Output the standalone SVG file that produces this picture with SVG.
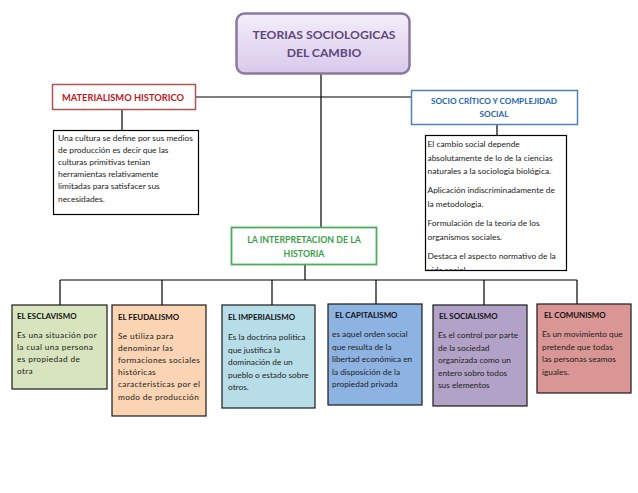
<svg xmlns="http://www.w3.org/2000/svg" width="638" height="493" viewBox="0 0 638 493">
<defs>
<linearGradient id="gTitle" x1="0" y1="0" x2="0" y2="1">
<stop offset="0" stop-color="#f4eefa"/>
<stop offset="1" stop-color="#d8c9ea"/>
</linearGradient>
<clipPath id="clipR"><rect x="425" y="135" width="142" height="135.5"/></clipPath>
</defs>
<style>
.ln{stroke:#000;stroke-width:1.2;fill:none}
.tx{font-family:Lato,"Liberation Sans",sans-serif;font-size:8.4px;fill:#222}
.bx{font-family:Lato,"Liberation Sans",sans-serif;font-size:8.3px;fill:#222}
.sp{letter-spacing:0.35px}
.bt{font-family:Lato,"Liberation Sans",sans-serif;font-size:7.9px;font-weight:bold;fill:#111}
.hd{font-family:Lato,"Liberation Sans",sans-serif;font-weight:bold;text-anchor:middle}
.box{stroke:#1a1a1a;stroke-width:1.2}
</style>
<rect width="638" height="493" fill="#fff"/>
<g id="connectors">
<line class="ln" x1="321" y1="74" x2="321" y2="227"/>
<line class="ln" x1="196" y1="97" x2="411" y2="97"/>
<line class="ln" x1="122" y1="109" x2="122" y2="130"/>
<line class="ln" x1="497" y1="125" x2="497" y2="135"/>
<line class="ln" x1="305" y1="265" x2="305" y2="280"/>
<line class="ln" x1="60" y1="280" x2="577" y2="280"/>
<line class="ln" x1="60" y1="280" x2="60" y2="305"/>
<line class="ln" x1="162" y1="280" x2="162" y2="305"/>
<line class="ln" x1="272" y1="280" x2="272" y2="305"/>
<line class="ln" x1="376" y1="280" x2="376" y2="304"/>
<line class="ln" x1="484" y1="280" x2="484" y2="305"/>
<line class="ln" x1="577" y1="280" x2="577" y2="304"/>
</g>
<g id="title">
<rect x="236.5" y="13.5" width="173" height="60" rx="8" fill="url(#gTitle)" stroke="#8a78a3" stroke-width="2.5"/>
<text class="hd" x="324" y="39" font-size="12.2" fill="#5f4680">TEORIAS SOCIOLOGICAS</text>
<text class="hd" x="324" y="57" font-size="12.2" fill="#5f4680">DEL CAMBIO</text>
</g>
<g id="materialismo">
<rect x="52.5" y="84.5" width="143" height="25" fill="#fff" stroke="#b5524f" stroke-width="1.5"/>
<text class="hd" x="123" y="100.5" font-size="9.3" fill="#c0181c">MATERIALISMO HISTORICO</text>
</g>
<g id="materialismo-texto">
<rect x="53.5" y="130.5" width="145" height="84" fill="#fff" stroke="#000" stroke-width="1.2"/>
<text class="tx" x="58" y="141">Una cultura se define por sus medios</text>
<text class="tx" x="58" y="153">de producción es decir que las</text>
<text class="tx" x="58" y="165">culturas primitivas tenian</text>
<text class="tx" x="58" y="177">herramientas relativamente</text>
<text class="tx" x="58" y="189">limitadas para satisfacer sus</text>
<text class="tx" x="58" y="202">necesidades.</text>
</g>
<g id="socio">
<rect x="411.5" y="90.5" width="166" height="34" fill="#fff" stroke="#4f81bd" stroke-width="1.5"/>
<text class="hd" x="494" y="104" font-size="8.2" fill="#2366ad">SOCIO CRÍTICO Y COMPLEJIDAD</text>
<text class="hd" x="494" y="116.5" font-size="8.2" fill="#2366ad">SOCIAL</text>
</g>
<g id="socio-texto">
<rect x="425.5" y="135.5" width="141" height="135" fill="#fff" stroke="#000" stroke-width="1.2"/>
<g clip-path="url(#clipR)">
<text class="tx" x="427.5" y="147">El cambio social depende</text>
<text class="tx" x="427.5" y="160.5">absolutamente de lo de la ciencias</text>
<text class="tx" x="427.5" y="174">naturales a la sociologia biológica.</text>
<text class="tx" x="427.5" y="193">Aplicación indiscriminadamente de</text>
<text class="tx" x="427.5" y="206.5">la metodologia.</text>
<text class="tx" x="427.5" y="226">Formulación de la teoria de los</text>
<text class="tx" x="427.5" y="239.5">organismos sociales.</text>
<text class="tx" x="427.5" y="258.5">Destaca el aspecto normativo de la</text>
<text class="tx" x="427.5" y="272.5">vida social</text>
</g>
</g>
<g id="interpretacion">
<rect x="231.5" y="227.5" width="145" height="37" fill="#fff" stroke="#4bae5a" stroke-width="1.8"/>
<text class="hd" x="304" y="243" font-size="8.8" fill="#3a9f48">LA INTERPRETACION DE LA</text>
<text class="hd" x="304" y="257" font-size="8.8" fill="#3a9f48">HISTORIA</text>
</g>
<g id="esclavismo">
<rect class="box" x="12" y="305" width="95" height="84" fill="#d7e4bd"/>
<text class="bt" x="17" y="319">EL ESCLAVISMO</text>
<text class="bx sp" x="17" y="338">Es una situación por</text>
<text class="bx sp" x="17" y="350">la cual una persona</text>
<text class="bx sp" x="17" y="362">es propiedad de</text>
<text class="bx sp" x="17" y="374">otra</text>
</g>
<g id="feudalismo">
<rect class="box" x="112" y="305" width="94" height="111" fill="#fbd4b4"/>
<text class="bt" x="118" y="319.5">EL FEUDALISMO</text>
<text class="bx sp" x="118" y="338.5">Se utiliza para</text>
<text class="bx sp" x="118" y="350.7">denominar las</text>
<text class="bx sp" x="118" y="362.9">formaciones sociales</text>
<text class="bx sp" x="118" y="375.1">históricas</text>
<text class="bx sp" x="118" y="387.3">caracteristicas por el</text>
<text class="bx sp" x="118" y="399.5">modo de producción</text>
</g>
<g id="imperialismo">
<rect class="box" x="222" y="305" width="93" height="103" fill="#b7dee8"/>
<text class="bt" x="228" y="320">EL IMPERIALISMO</text>
<text class="bx" x="228" y="340">Es la doctrina politica</text>
<text class="bx" x="228" y="352.5">que justifica la</text>
<text class="bx" x="228" y="365">dominación de un</text>
<text class="bx" x="228" y="377.5">pueblo o estado sobre</text>
<text class="bx" x="228" y="390">otros.</text>
</g>
<g id="capitalismo">
<rect class="box" x="328" y="304" width="94" height="101" fill="#8db3e2"/>
<text class="bt" x="335" y="317.5">EL CAPITALISMO</text>
<text class="bx" x="332" y="337">es aquel orden social</text>
<text class="bx" x="332" y="349.5">que resulta de la</text>
<text class="bx" x="332" y="362">libertad económica en</text>
<text class="bx" x="332" y="374.5">la disposición de la</text>
<text class="bx" x="332" y="387">propiedad privada</text>
</g>
<g id="socialismo">
<rect class="box" x="433" y="305" width="94" height="101" fill="#b2a2c7"/>
<text class="bt" x="439" y="319">EL SOCIALISMO</text>
<text class="bx" x="438" y="338">Es el control por parte</text>
<text class="bx" x="438" y="350.5">de la sociedad</text>
<text class="bx" x="438" y="363">organizada como un</text>
<text class="bx" x="438" y="375.5">entero sobro todos</text>
<text class="bx" x="438" y="388">sus elementos</text>
</g>
<g id="comunismo">
<rect class="box" x="537" y="304" width="94" height="89" fill="#d99694"/>
<text class="bt" x="544" y="317.5">EL COMUNISMO</text>
<text class="bx" x="542" y="337">Es un movimiento que</text>
<text class="bx" x="542" y="349.5">pretende que todas</text>
<text class="bx" x="542" y="362">las personas seamos</text>
<text class="bx" x="542" y="374.5">iguales.</text>
</g>
</svg>
